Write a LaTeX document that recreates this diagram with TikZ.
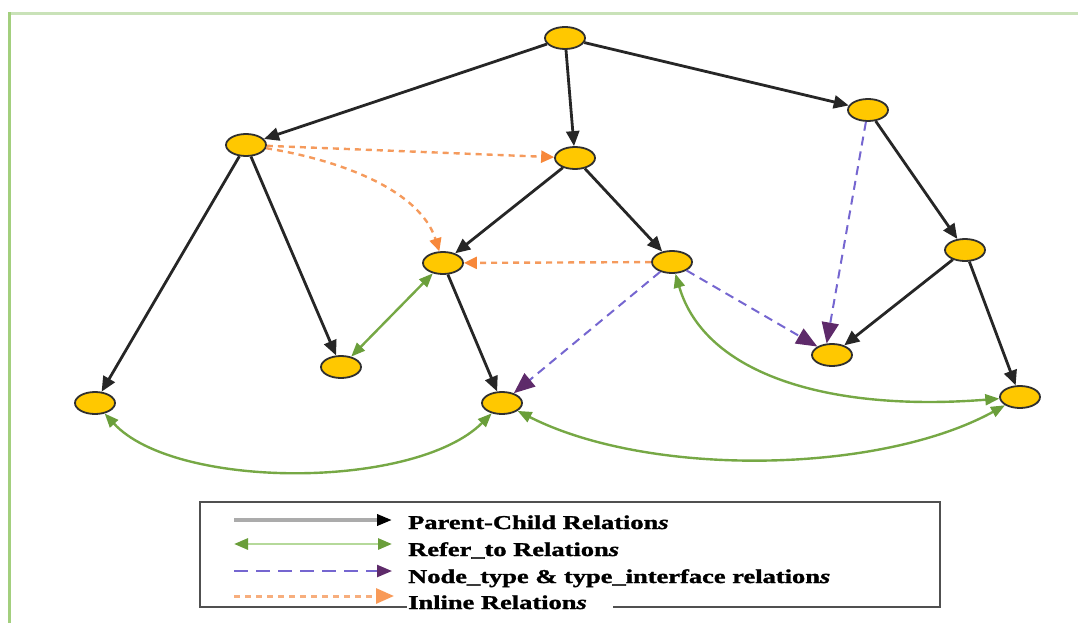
\documentclass[tikz,border=0pt]{standalone}
\usepackage{fontspec}
\setmainfont{Liberation Serif}
\usepackage{graphicx}
\usetikzlibrary{arrows.meta,shapes.geometric}

\definecolor{nodefill}{HTML}{FFC800}
\definecolor{nodeline}{HTML}{303030}
\definecolor{pcline}{HTML}{262626}
\definecolor{refgreen}{HTML}{76A845}
\definecolor{refhead}{HTML}{6A9E3A}
\definecolor{typeblue}{HTML}{7566D0}
\definecolor{typehead}{HTML}{5E2A6A}
\definecolor{inlineorange}{HTML}{F59A5C}
\definecolor{inlinehead}{HTML}{F7883A}
\definecolor{frameleft}{HTML}{A3CF7E}
\definecolor{frametop}{HTML}{C9E2B8}
\definecolor{boxline}{HTML}{505050}
\definecolor{legendgray}{HTML}{ABABAB}
\definecolor{legendgreen}{HTML}{B5D99A}

\newfontfamily\legendfont[FakeBold=1.2]{Liberation Serif}
\newcommand{\legendlabel}[1]{\legendfont\fontsize{19.6}{22}\selectfont\scalebox{1.35}[1]{\bfseries #1}}

\begin{document}
\begin{tikzpicture}[x=1pt,y=-1pt,
  vertex/.style={ellipse, draw=nodeline, line width=1.8pt, fill=nodefill,
    minimum width=40pt, minimum height=22pt, inner sep=0pt},
  parent/.style={draw=pcline, line width=2.8pt,
    -{Triangle[length=15pt,width=13pt]}},
  refer/.style={draw=refgreen, line width=2.4pt,
    {Triangle[length=14pt,width=11pt,color=refhead]}-{Triangle[length=14pt,width=11pt,color=refhead]}},
  ntype/.style={draw=typeblue, line width=2pt, dash pattern=on 9pt off 6pt,
    -{Triangle[length=21pt,width=17pt,color=typehead]}},
  inline/.style={draw=inlineorange, line width=2.4pt, dash pattern=on 6pt off 5pt,
    -{Triangle[length=13pt,width=12pt,color=inlinehead]}},
  legendtext/.style={anchor=base west, inner sep=0pt}
]
\useasboundingbox (0,0) rectangle (1078,623);

% frame
\draw[frametop, line width=2.5pt] (8,13.5) -- (1078,13.5);
\draw[frameleft, line width=3pt] (9.5,12.5) -- (9.5,623);

% vertices
\node[vertex] (A) at (565,38) {};
\node[vertex] (B) at (868,110) {};
\node[vertex] (C) at (246,145) {};
\node[vertex] (D) at (575,158) {};
\node[vertex] (E) at (443,263) {};
\node[vertex] (F) at (672,262) {};
\node[vertex] (G) at (965,250) {};
\node[vertex] (H) at (341,367) {};
\node[vertex] (I) at (832,355) {};
\node[vertex] (J) at (95,403) {};
\node[vertex] (K) at (502,403) {};
\node[vertex] (L) at (1020,397) {};

% parent-child relations
\draw[parent] (A) -- (C);
\draw[parent] (A) -- (D);
\draw[parent] (A) -- (B);
\draw[parent] (C) -- (J);
\draw[parent] (C) -- (H);
\draw[parent] (D) -- (E);
\draw[parent] (D) -- (F);
\draw[parent] (E) -- (K);
\draw[parent] (B) -- (G);
\draw[parent] (G) -- (I);
\draw[parent] (G) -- (L);

% refer_to relations
\draw[refer] (E) -- (H);
\draw[refer] (J) .. controls (175,490) and (415,490) .. (K);
\draw[refer] (K) .. controls (650,478) and (880,474) .. (L);
\draw[refer] (F) .. controls (705,375) and (830,412) .. (L);

% node_type and type_interface relations
\draw[ntype] (F) -- (K);
\draw[ntype] (F) -- (I.150);
\draw[ntype] (B) -- (I.115);

% inline relations
\draw[inline] (C) -- (D);
\draw[inline] (C) .. controls (340,160) and (420,190) .. (E);
\draw[inline] (F) -- (E);

% legend box, open where the last label crosses the bottom edge
\draw[boxline, line width=2pt] (407,607) -- (200,607) -- (200,502) -- (940,502) -- (940,607) -- (613,607);

\coordinate (p1) at (234,520);  \coordinate (p2) at (392,520);
\coordinate (r1) at (234,544);  \coordinate (r2) at (392,544);
\coordinate (t1) at (234,571);  \coordinate (t2) at (392,571);
\coordinate (n1) at (234,596);  \coordinate (n2) at (394,596);

\draw[legendgray, line width=3.5pt, -{Triangle[length=15pt,width=11pt,color=black]}] (p1) -- (p2);
\draw[legendgreen, line width=2.8pt, {Triangle[length=14pt,width=11pt,color=refhead]}-{Triangle[length=14pt,width=11pt,color=refhead]}] (r1) -- (r2);
\draw[typeblue, line width=2.4pt, dash pattern=on 14pt off 8pt, -{Triangle[length=15pt,width=12pt,color=typehead]}] (t1) -- (t2);
\draw[inlineorange!80!white, line width=3pt, dash pattern=on 6pt off 5pt, -{Triangle[length=18pt,width=15pt,color=inlinehead!85!white]}] (n1) -- (n2);

\node[legendtext] (lp) at (408,529) {\legendlabel{Parent-Child Relation\textit{s}}};
\node[legendtext] (lr) at (408,556) {\legendlabel{Refer\_to Relation\textit{s}}};
\node[legendtext] (lt) at (408,583) {\legendlabel{Node\_type \& type\_interface relation\textit{s}}};
\node[legendtext] (ln) at (408,609) {\legendlabel{Inline Relation\textit{s}}};
\end{tikzpicture}
\end{document}
